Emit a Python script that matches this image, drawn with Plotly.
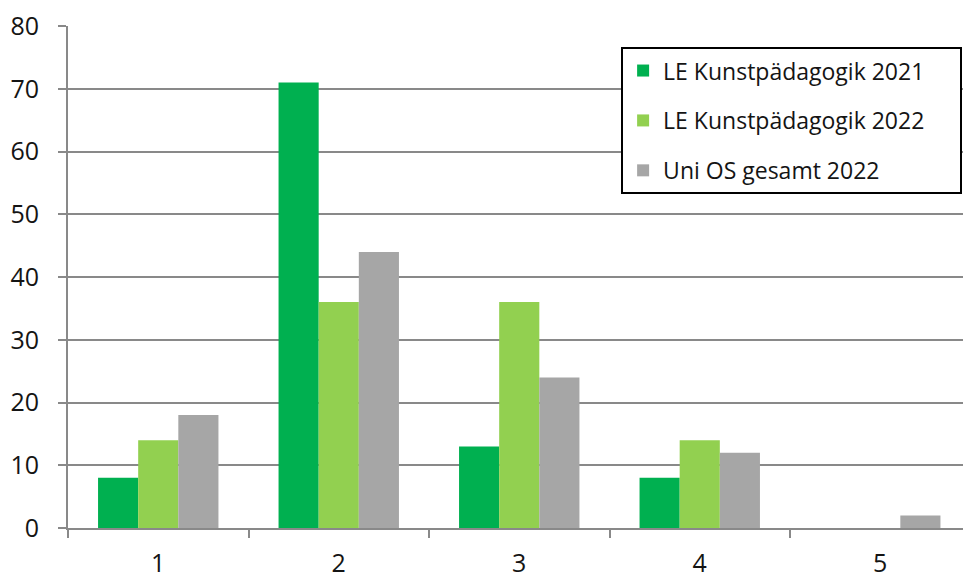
import plotly.graph_objects as go

categories = ["1", "2", "3", "4", "5"]
le_2021 = [8, 71, 13, 8, 0]
le_2022 = [14, 36, 36, 14, 0]
uni_2022 = [18, 44, 24, 12, 2]
y_ticks = [0, 10, 20, 30, 40, 50, 60, 70, 80]

series = [
    ("LE Kunstpädagogik 2021", le_2021, "#00B050"),
    ("LE Kunstpädagogik 2022", le_2022, "#92D050"),
    ("Uni OS gesamt 2022", uni_2022, "#A6A6A6"),
]

PAD = "\u00a0" * 5  # invisible padding to widen the legend box like the original

fig = go.Figure()
for i, (name, vals, col) in enumerate(series):
    fig.add_trace(go.Bar(x=categories, y=vals, name=name + PAD, marker_color=col,
                         marker_line_width=0, legendgroup=f"g{i}"))

GRID = "#898989"
FONT = "Open Sans"
TXT = "#141414"
fig.update_layout(
    width=963, height=579,
    margin=dict(l=68, r=0, t=26, b=49),
    paper_bgcolor="white", plot_bgcolor="white",
    barmode="group", bargap=0.333, bargroupgap=0,
    font=dict(family=FONT, size=25, color=TXT),
    showlegend=True,
    legend=dict(
        x=0.618, y=0.958, xanchor="left", yanchor="top",
        bordercolor="black", borderwidth=2, bgcolor="white",
        font=dict(family=FONT, size=23, color=TXT),
        tracegroupgap=17, traceorder="grouped",
    ),
    xaxis=dict(
        type="category", range=[-0.5, -0.5 + 895 / 180.5],
        showline=True, linecolor=GRID, linewidth=2,
        ticks="outside", tickson="boundaries", ticklen=8, tickwidth=2, tickcolor=GRID,
        showgrid=False, ticklabelstandoff=12,
        tickfont=dict(family=FONT, size=25, color=TXT),
    ),
    yaxis=dict(
        range=[0, 80], tickvals=y_ticks,
        showline=True, linecolor=GRID, linewidth=2,
        ticks="outside", ticklen=8, tickwidth=2, tickcolor=GRID,
        showgrid=True, gridcolor=GRID, gridwidth=2, zeroline=False,
        ticklabelstandoff=14,
        tickfont=dict(family=FONT, size=25, color=TXT),
    ),
)

fig.write_html("out.html")
